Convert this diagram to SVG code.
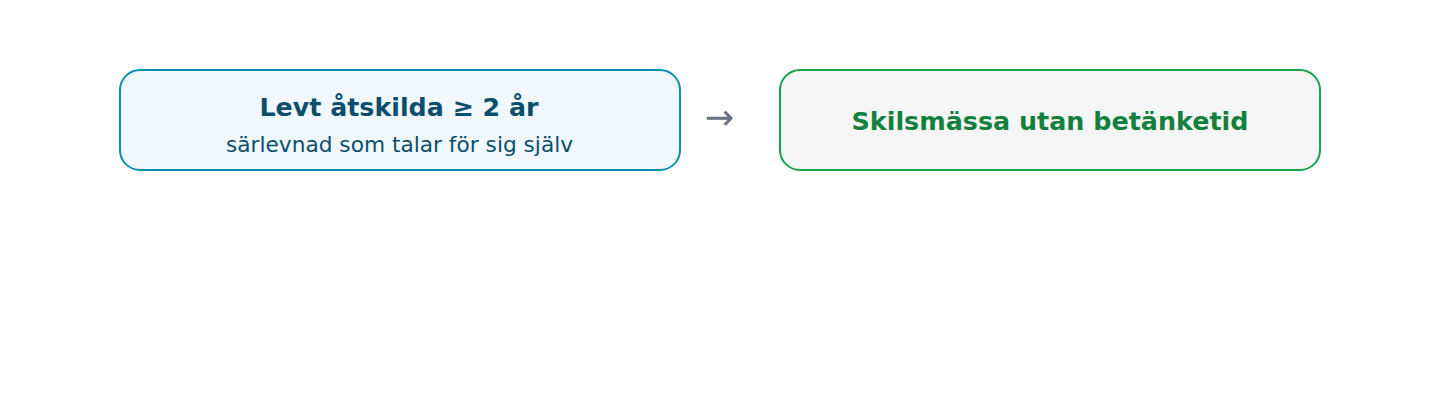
<svg xmlns="http://www.w3.org/2000/svg" width="1440" height="400" viewBox="0 0 1440 400">
<style>
.box{stroke-width:2}
.t{font-family:"DejaVu Sans",sans-serif;text-anchor:middle}
</style>
<rect width="1440" height="400" fill="#ffffff"/>
<g id="node-left">
<rect class="box" x="120" y="70" width="560" height="100" rx="20" fill="#f0f8fe" stroke="#0e8fb0"/>
<text class="t" x="399" y="116" font-size="25.3" font-weight="bold" fill="#0b4f6c">Levt åtskilda ≥ 2 år</text>
<text class="t" x="399.5" y="152" font-size="21.7" fill="#0b4f6c">särlevnad som talar för sig själv</text>
</g>
<g id="connectors">
<text class="t" x="719.5" y="129" font-size="35" fill="#6b7280">→</text>
</g>
<g id="node-right">
<rect class="box" x="780" y="70" width="540" height="100" rx="20" fill="#f4f6f5" stroke="#16a34a"/>
<text class="t" x="1050" y="130" font-size="25.4" font-weight="bold" fill="#13803d">Skilsmässa utan betänketid</text>
</g>
</svg>
